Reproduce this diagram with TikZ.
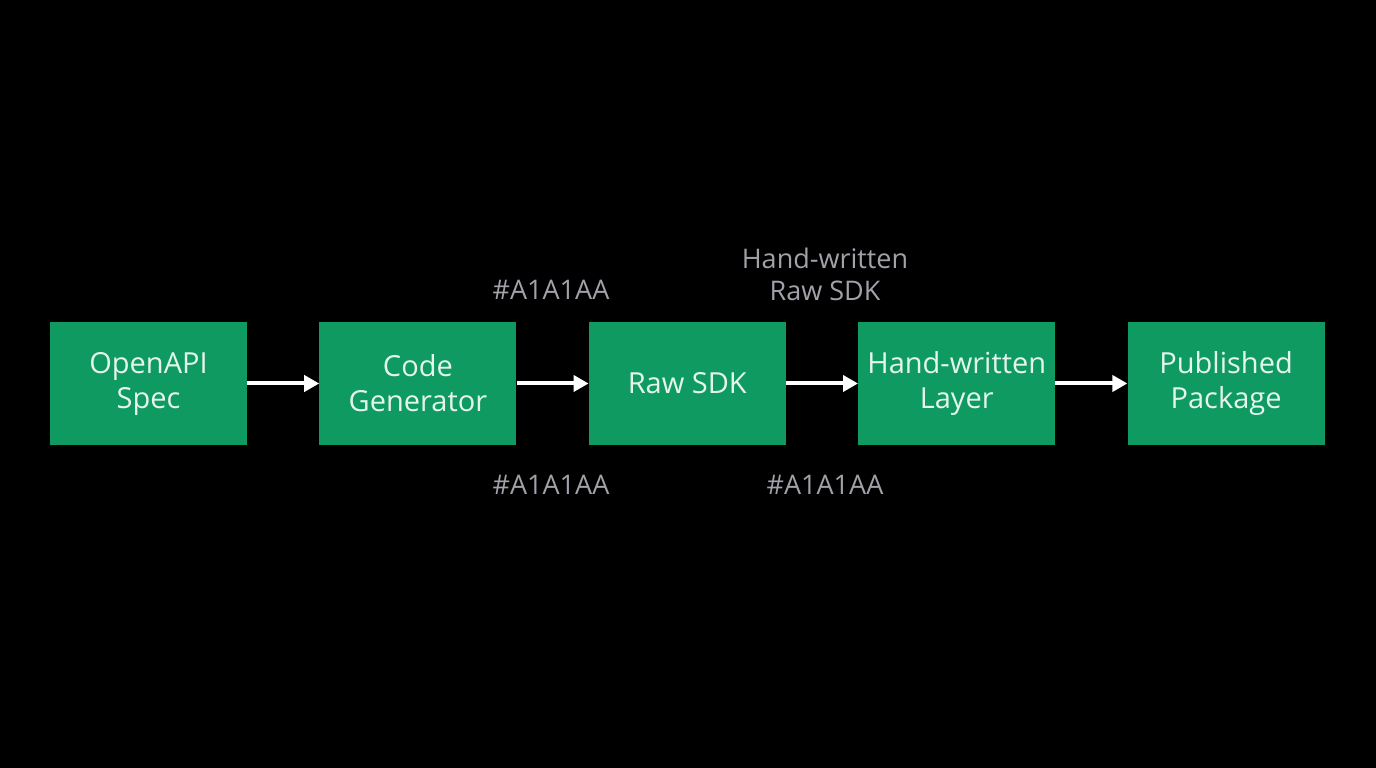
\documentclass[tikz,border=0pt]{standalone}
\usepackage{fontspec}
\setmainfont{Open Sans}
\usetikzlibrary{positioning,arrows.meta}
\definecolor{boxgreen}{HTML}{0F9A62}
\definecolor{boxtext}{HTML}{E4F6EC}
\definecolor{notegray}{HTML}{A1A1AA}
\tikzset{
  stage/.style={fill=boxgreen, minimum width=197pt, minimum height=123pt,
    inner sep=0pt, align=center, text=boxtext, font=\fontsize{29}{35}\selectfont},
  flow/.style={draw=white, line width=4pt, -{Triangle[length=15pt,width=16pt]}},
  note/.style={text=notegray, align=center, font=\fontsize{27}{32}\selectfont}
}
\begin{document}
\begin{tikzpicture}[x=1pt,y=1pt, node distance=72pt]
  \fill[black] (0,0) rectangle (1376,768);
  \useasboundingbox (0,0) rectangle (1376,768);
  \node[stage] (spec) at (148.5,384.5) {OpenAPI\\Spec};
  \node[stage, right=of spec] (gen) {Code\\Generator};
  \node[stage, right=of gen] (raw) {Raw SDK};
  \node[stage, right=of raw] (layer) {Hand-written\\Layer};
  \node[stage, right=of layer] (pkg) {Published\\Package};
  \draw[flow] (spec) -- (gen);
  \draw[flow] (gen) -- (raw);
  \draw[flow] (raw) -- (layer);
  \draw[flow] (layer) -- (pkg);
  \node[note] (genraw top) at (551,478) {\#A1A1AA};
  \node[note] (genraw bot) at (551,283) {\#A1A1AA};
  \node[note] (rawlayer top) at (825,494) {Hand-written\\Raw SDK};
  \node[note] (rawlayer bot) at (825,283) {\#A1A1AA};
\end{tikzpicture}
\end{document}
